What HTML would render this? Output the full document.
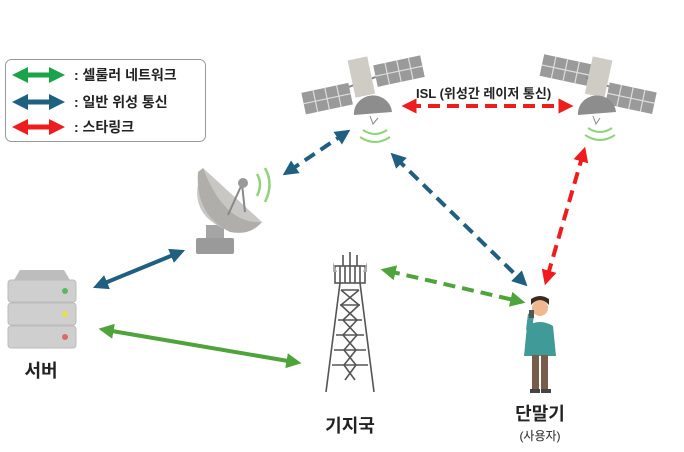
<!DOCTYPE html>
<html><head><meta charset="utf-8"><style>
body{margin:0;background:#fff;}
svg{display:block;font-family:"Liberation Sans","Noto Sans CJK KR",sans-serif;}
</style></head><body>
<svg width="684" height="452" viewBox="0 0 684 452">
<defs>
<marker id="hg" viewBox="0 0 10 10" refX="5" refY="5" markerWidth="3.8" markerHeight="3.8" orient="auto-start-reverse"><path d="M0,0L10,5L0,10z" fill="#4ea43a"/></marker>
<marker id="hb" viewBox="0 0 10 10" refX="5" refY="5" markerWidth="3.8" markerHeight="3.8" orient="auto-start-reverse"><path d="M0,0L10,5L0,10z" fill="#1f5f7f"/></marker>
<marker id="hr" viewBox="0 0 10 10" refX="5" refY="5" markerWidth="3.8" markerHeight="3.8" orient="auto-start-reverse"><path d="M0,0L10,5L0,10z" fill="#ee1c1c"/></marker>
<marker id="lg" viewBox="0 0 10 10" refX="5" refY="5" markerWidth="3.2" markerHeight="3.2" orient="auto-start-reverse"><path d="M0,0L10,5L0,10z" fill="#1aa34a"/></marker>
<marker id="lb" viewBox="0 0 10 10" refX="5" refY="5" markerWidth="3.2" markerHeight="3.2" orient="auto-start-reverse"><path d="M0,0L10,5L0,10z" fill="#1f5f7f"/></marker>
<marker id="lr" viewBox="0 0 10 10" refX="5" refY="5" markerWidth="3.2" markerHeight="3.2" orient="auto-start-reverse"><path d="M0,0L10,5L0,10z" fill="#ee1c1c"/></marker>
<g id="panel"><rect width="48" height="22" fill="#9a9a9a"/><path d="M12,0V22M24,0V22M36,0V22M0,11H48" stroke="#ddd" stroke-width="1.2"/></g>
</defs>
<!-- legend -->
<rect x="5.5" y="59.5" width="200" height="82" rx="6" fill="#fff" stroke="#999"/>
<line x1="20" y1="75" x2="57" y2="75" stroke="#1aa34a" stroke-width="5" marker-start="url(#lg)" marker-end="url(#lg)"/>
<line x1="20" y1="102" x2="57" y2="102" stroke="#1f5f7f" stroke-width="5" marker-start="url(#lb)" marker-end="url(#lb)"/>
<line x1="20" y1="127" x2="57" y2="127" stroke="#ee1c1c" stroke-width="5" marker-start="url(#lr)" marker-end="url(#lr)"/>
<g font-size="14" font-weight="bold" fill="#222">
<text x="74" y="80">: 셀룰러 네트워크</text>
<text x="74" y="107">: 일반 위성 통신</text>
<text x="74" y="132">: 스타링크</text>
</g>
<!-- satellite 1 -->
<g transform="translate(362,80) rotate(-12)">
<use href="#panel" x="-62" y="0"/><use href="#panel" x="14" y="-12"/>
<line x1="-14" y1="4" x2="14" y2="0" stroke="#888" stroke-width="2"/>
<rect x="-10" y="-22" width="20" height="38" fill="#cfccc6"/>
</g>
<path d="M354,115 A19,18 0 0 1 392,112 Z" fill="#8d8d8d"/>
<path d="M370,116l3,8l5,-6" stroke="#888" fill="none"/>
<path d="M363,130 q12,8 24,0 M360,137 q15,10 30,0" stroke="#8fd47a" stroke-width="2" fill="none"/>
<!-- satellite 2 -->
<g transform="translate(598,80) rotate(12)">
<use href="#panel" x="-58" y="-14"/><use href="#panel" x="12" y="0"/>
<line x1="-12" y1="0" x2="12" y2="4" stroke="#888" stroke-width="2"/>
<rect x="-10" y="-22" width="20" height="38" fill="#cfccc6"/>
</g>
<path d="M578,115 A19,18 0 0 1 616,112 Z" fill="#8d8d8d"/>
<path d="M593,116l3,8l4,-6" stroke="#888" fill="none"/>
<path d="M588,128 q12,8 24,0 M585,135 q15,10 30,0" stroke="#8fd47a" stroke-width="2" fill="none"/>
<text x="416" y="98" font-size="13" font-weight="bold" fill="#222">ISL (위성간 레이저 통신)</text>
<!-- connectors -->
<line x1="409" y1="106" x2="566" y2="106" stroke="#ee1c1c" stroke-width="4" stroke-dasharray="12,7" marker-start="url(#hr)" marker-end="url(#hr)"/>
<line x1="289" y1="171" x2="344" y2="134" stroke="#1f5f7f" stroke-width="4" stroke-dasharray="12,7" marker-start="url(#hb)" marker-end="url(#hb)"/>
<line x1="396" y1="158" x2="522" y2="281" stroke="#1f5f7f" stroke-width="4" stroke-dasharray="12,7" marker-start="url(#hb)" marker-end="url(#hb)"/>
<line x1="583" y1="154" x2="547" y2="278" stroke="#ee1c1c" stroke-width="4" stroke-dasharray="12,7" marker-start="url(#hr)" marker-end="url(#hr)"/>
<line x1="388" y1="271" x2="518" y2="301" stroke="#4ea43a" stroke-width="4" stroke-dasharray="12,7" marker-start="url(#hg)" marker-end="url(#hg)"/>
<line x1="100" y1="285" x2="178" y2="253" stroke="#1f5f7f" stroke-width="4" marker-start="url(#hb)" marker-end="url(#hb)"/>
<line x1="106" y1="330" x2="294" y2="362" stroke="#4ea43a" stroke-width="4" marker-start="url(#hg)" marker-end="url(#hg)"/>
<!-- ground dish -->
<rect x="206" y="225" width="18" height="15" fill="#a5a5a5"/>
<rect x="196" y="238" width="38" height="16" rx="2" fill="#9a9a9a"/>
<path d="M203,168 Q185,210 222,228 Q245,236 262,222 Z" fill="#c9c7c4"/>
<path d="M262,222 Q225,225 203,168 L198,172 Q195,215 230,232 Q250,236 262,222Z" fill="#b0aeab"/>
<path d="M228,215 L242,184 L245,212" stroke="#888" stroke-width="2" fill="none"/>
<circle cx="243" cy="183" r="5" fill="#999"/>
<path d="M257,174 q6,10 0,22 M265,168 q9,16 0,34" stroke="#8fd47a" stroke-width="2.5" fill="none"/>
<!-- server -->
<g>
<rect x="8" y="280" width="68" height="22" rx="3" fill="#cfcfcf" stroke="#bbb"/>
<path d="M14,280 L20,270 H64 L70,280Z" fill="#bdbdbd"/>
<rect x="8" y="303" width="68" height="22" rx="3" fill="#cfcfcf" stroke="#bbb"/>
<rect x="8" y="326" width="68" height="22" rx="3" fill="#cfcfcf" stroke="#bbb"/>
<circle cx="65" cy="291" r="3" fill="#5cb85c"/><circle cx="65" cy="314" r="3" fill="#e6e04a"/><circle cx="65" cy="337" r="3" fill="#d96a6a"/>
</g>
<text x="41" y="377" font-size="18" font-weight="bold" text-anchor="middle" fill="#222">서버</text>
<!-- tower -->
<g stroke="#555" stroke-width="1.6" fill="none">
<path d="M340,283 L326,392 M360,283 L374,392"/>
<path d="M341,290 L359,305 L343,320 L357,335 L344,350 L356,365 L345,380 M359,290 L341,305 L357,320 L343,335 L356,350 L344,365 L355,380"/>
<path d="M341,290H359M340,305H360M338,320H362M336,335H364M334,350H366M332,365H368"/>
<rect x="335" y="266" width="30" height="17" fill="#fff"/>
<path d="M340,266V283M345,266V283M350,266V283M355,266V283M360,266V283"/>
<path d="M350,252V266M343,255V266M357,255V266"/>
</g>
<path d="M333,262 l4,10 h-4z M367,262 l-4,10 h4z" fill="#aaa"/>
<text x="350" y="432" font-size="18" font-weight="bold" text-anchor="middle" fill="#222">기지국</text>
<!-- person -->
<circle cx="540" cy="308" r="8" fill="#f0b890"/>
<path d="M531,305 q9,-10 18,0 v-6 q-9,-6 -18,0z" fill="#3a2a20"/>
<path d="M527,326 q13,-8 26,0 l3,30 h-32z" fill="#3f9a98"/>
<rect x="532" y="355" width="7" height="35" fill="#7a5c4a"/><rect x="541" y="355" width="7" height="35" fill="#7a5c4a"/>
<rect x="530" y="389" width="10" height="4" fill="#444"/><rect x="541" y="389" width="10" height="4" fill="#444"/>
<path d="M529,330 l2,-16" stroke="#3f9a98" stroke-width="6"/>
<rect x="529" y="310" width="5" height="8" fill="#555"/>
<text x="540" y="420" font-size="18" font-weight="bold" text-anchor="middle" fill="#222">단말기</text>
<text x="540" y="440" font-size="12" text-anchor="middle" fill="#222">(사용자)</text>
</svg>
</body></html>
